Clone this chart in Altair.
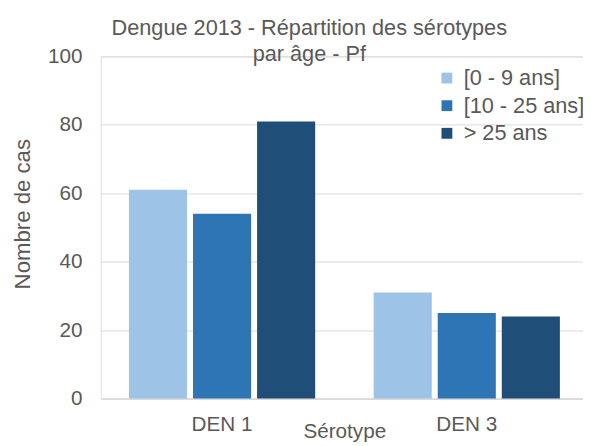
import altair as alt
import pandas as pd

serotypes = ["DEN 1", "DEN 3"]
age_groups = ["[0 - 9 ans]", "[10 - 25 ans]", "> 25 ans"]
den1_values = [61, 54, 81]
den3_values = [31, 25, 24]
colors = ["#9DC3E6", "#2E75B6", "#1F4E79"]

rows = []
for sero, vals in zip(serotypes, [den1_values, den3_values]):
    for g, v in zip(age_groups, vals):
        rows.append({"Sérotype": sero, "Age": g, "Cas": v})
df = pd.DataFrame(rows)

FONT = "Liberation Sans"
TXT = "#595959"
GRID = "#D9D9D9"

chart = alt.Chart(df).mark_bar().encode(
    x=alt.X(
        "Sérotype:N",
        sort=serotypes,
        scale=alt.Scale(paddingInner=0.239, paddingOuter=0.105, align=0.55),
        axis=alt.Axis(
            title="Sérotype",
            labelAngle=0,
            labelFontSize=21,
            labelColor=TXT,
            labelFont=FONT,
            labelBaseline="alphabetic",
            labelPadding=32,
            ticks=False,
            domainColor=GRID,
            domainWidth=1.5,
            grid=False,
            titleFontSize=21,
            titleFont=FONT,
            titleColor=TXT,
            titleFontWeight="normal",
            titleX=247,
            titleY=39,
            titleAlign="center",
            titleBaseline="alphabetic",
        ),
    ),
    xOffset=alt.XOffset("Age:N", sort=age_groups,
                        scale=alt.Scale(paddingInner=0.093, paddingOuter=0)),
    y=alt.Y(
        "Cas:Q",
        scale=alt.Scale(domain=[0, 100], nice=False),
        axis=alt.Axis(
            title="Nombre de cas",
            values=[0, 20, 40, 60, 80, 100],
            labelFontSize=21,
            labelColor=TXT,
            labelFont=FONT,
            labelPadding=19,
            ticks=False,
            domain=False,
            grid=True,
            gridColor=GRID,
            gridWidth=1,
            titleFontSize=22.5,
            titleFont=FONT,
            titleColor=TXT,
            titleFontWeight="normal",
            titleAngle=270,
            titleX=-79,
            titleY=159.5,
            titleAlign="center",
            titleBaseline="middle",
        ),
    ),
    color=alt.Color(
        "Age:N",
        sort=age_groups,
        scale=alt.Scale(domain=age_groups, range=colors),
        legend=alt.Legend(
            title=None,
            orient="none",
            legendX=340,
            legendY=11,
            symbolType="square",
            symbolSize=121,
            symbolStrokeWidth=0,
            labelFontSize=22,
            labelFont=FONT,
            labelColor=TXT,
            labelOffset=6,
            rowPadding=6,
            padding=0,
        ),
    ),
).properties(
    width=489,
    height=347,
    padding={"left": 94, "top": 46, "right": 0, "bottom": 45},
    autosize=alt.AutoSizeParams(type="none"),
    title=alt.TitleParams(
        text=["Dengue 2013 - Répartition des sérotypes", "par âge - Pf"],
        fontSize=22,
        font=FONT,
        color=TXT,
        fontWeight="normal",
        anchor="middle",
        frame="group",
        dx=-33,
        lineHeight=27,
        offset=-21,
    ),
).configure_view(stroke=None).configure(background="white")

chart.save("out.html", embed_options={"renderer": "svg", "actions": False})
